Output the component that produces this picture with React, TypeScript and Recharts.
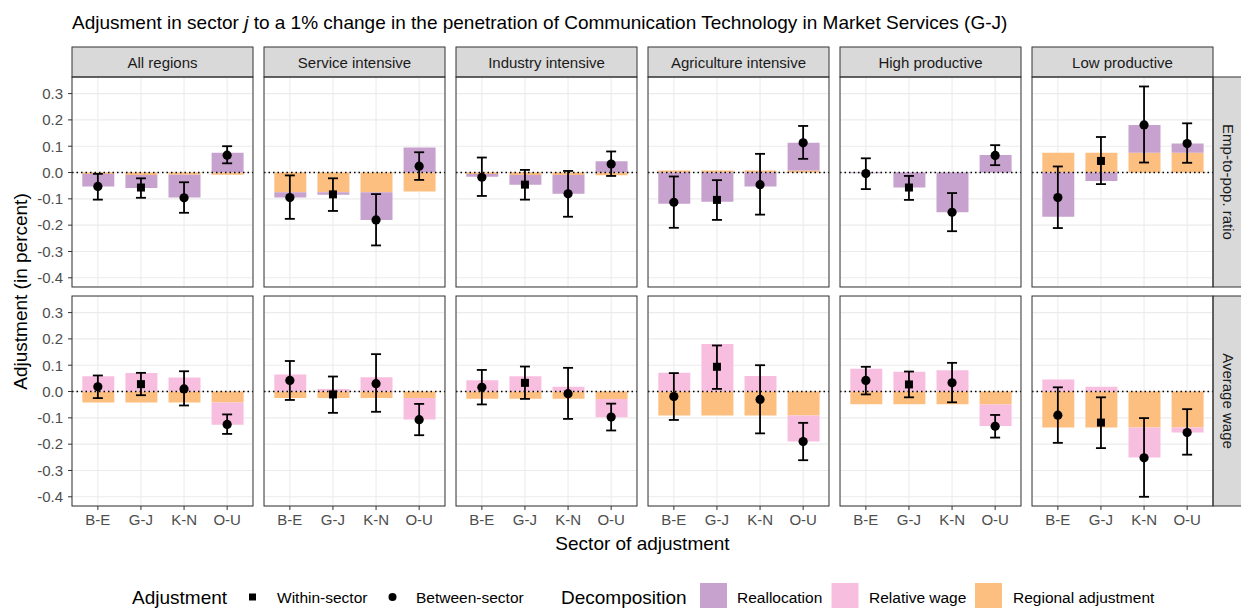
import React from 'react';
import { ComposedChart, Bar, Line, XAxis, YAxis, CartesianGrid, ReferenceLine, ErrorBar } from 'recharts';

// ---------- data ----------
const categories = ['B-E', 'G-J', 'K-N', 'O-U'];
const shockSector = 'G-J';
const regions = ['All regions', 'Service intensive', 'Industry intensive', 'Agriculture intensive', 'High productive', 'Low productive'];
const outcomes = ['Emp-to-pop. ratio', 'Average wage'];
const yTicks = [-0.4, -0.3, -0.2, -0.1, 0, 0.1, 0.2, 0.3];

// Employment-to-population ratio: [region][category]
const empRealloc = [
  [-0.047, -0.050, -0.087, 0.075],
  [-0.020, -0.009, -0.105, 0.095],
  [-0.010, -0.037, -0.072, 0.043],
  [-0.119, -0.111, -0.053, 0.105],
  [-0.003, -0.057, -0.151, 0.067],
  [-0.168, -0.032, 0.106, 0.035],
];
const empRelWage = [
  [0, 0, 0, 0],
  [0, 0, 0, 0],
  [0, 0, 0, 0],
  [0, 0, 0, 0],
  [0, 0, 0, 0],
  [0, 0, 0, 0],
];
const empRegional = [
  [-0.006, -0.009, -0.008, -0.008],
  [-0.075, -0.075, -0.075, -0.072],
  [-0.006, -0.009, -0.009, -0.010],
  [0.008, 0.008, 0.008, 0.008],
  [0, 0, 0, 0],
  [0.075, 0.075, 0.075, 0.075],
];
const empPoint = [
  [-0.053, -0.057, -0.096, 0.066],
  [-0.095, -0.083, -0.180, 0.024],
  [-0.018, -0.046, -0.081, 0.032],
  [-0.113, -0.104, -0.046, 0.113],
  [-0.004, -0.057, -0.151, 0.065],
  [-0.095, 0.044, 0.181, 0.110],
];
const empLow = [
  [-0.103, -0.096, -0.153, 0.035],
  [-0.176, -0.146, -0.277, -0.028],
  [-0.089, -0.103, -0.168, -0.013],
  [-0.210, -0.180, -0.160, 0.052],
  [-0.063, -0.104, -0.223, 0.028],
  [-0.211, -0.044, 0.038, 0.037],
];
const empHigh = [
  [-0.005, -0.022, -0.037, 0.100],
  [-0.011, -0.022, -0.082, 0.077],
  [0.057, 0.010, 0.006, 0.080],
  [-0.015, -0.029, 0.071, 0.177],
  [0.054, -0.013, -0.078, 0.104],
  [0.023, 0.135, 0.327, 0.187],
];

// Average wage: [region][category]
const wageRealloc = [
  [0, 0, 0, 0],
  [0, 0, 0, 0],
  [0, 0, 0, 0],
  [0, 0, 0, 0],
  [0, 0, 0, 0],
  [0, 0, 0, 0],
];
const wageRelWage = [
  [0.058, 0.070, 0.053, -0.084],
  [0.065, 0.010, 0.054, -0.081],
  [0.043, 0.058, 0.018, -0.070],
  [0.071, 0.181, 0.059, -0.099],
  [0.087, 0.075, 0.081, -0.082],
  [0.046, 0.018, -0.114, -0.019],
];
const wageRegional = [
  [-0.042, -0.042, -0.042, -0.042],
  [-0.025, -0.025, -0.025, -0.025],
  [-0.027, -0.027, -0.027, -0.028],
  [-0.091, -0.091, -0.091, -0.091],
  [-0.048, -0.048, -0.048, -0.049],
  [-0.137, -0.137, -0.137, -0.137],
];
const wagePoint = [
  [0.018, 0.028, 0.010, -0.125],
  [0.042, -0.011, 0.030, -0.107],
  [0.016, 0.033, -0.008, -0.097],
  [-0.019, 0.094, -0.030, -0.190],
  [0.042, 0.027, 0.033, -0.132],
  [-0.090, -0.118, -0.252, -0.156],
];
const wageLow = [
  [-0.025, -0.014, -0.053, -0.161],
  [-0.032, -0.081, -0.077, -0.166],
  [-0.049, -0.028, -0.104, -0.148],
  [-0.108, 0.010, -0.159, -0.261],
  [-0.011, -0.022, -0.041, -0.175],
  [-0.195, -0.215, -0.400, -0.240],
];
const wageHigh = [
  [0.061, 0.071, 0.077, -0.087],
  [0.116, 0.057, 0.142, -0.047],
  [0.082, 0.095, 0.090, -0.046],
  [0.070, 0.175, 0.100, -0.119],
  [0.094, 0.076, 0.109, -0.089],
  [0.016, -0.022, -0.101, -0.067],
];

// ---------- styling ----------
const FONT = '"Liberation Sans", Arial, Helvetica, sans-serif';
const C_REALLOC = '#C8A2CE';
const C_RELWAGE = '#F8BEDF';
const C_REGIONAL = '#FDBF80';
const GRID = '#EBEBEB';
const DARK = '#333333';
const TICKTXT = '#4D4D4D';

const PANEL_LEFT0 = 72;
const PANEL_STEP = 192;
const PW = 181;
const PH = 210;
const ROW_TOP = [77, 296];
const STRIP_TOP = 47;
const YMIN = -0.435;
const YMAX = 0.363;

const rowSets = [
  { realloc: empRealloc, relwage: empRelWage, regional: empRegional, point: empPoint, low: empLow, high: empHigh },
  { realloc: wageRealloc, relwage: wageRelWage, regional: wageRegional, point: wagePoint, low: wageLow, high: wageHigh },
];

const renderDot = (props: any) => {
  const { cx, cy, payload, index } = props;
  if (cx == null || cy == null) return <g key={`d${index}`} />;
  if (payload.within) {
    return <rect key={`d${index}`} x={cx - 4} y={cy - 4} width={8} height={8} fill="#000" />;
  }
  return <circle key={`d${index}`} cx={cx} cy={cy} r={4.6} fill="#000" />;
};

function Panel({ row, col }: { row: number; col: number }) {
  const s = rowSets[row];
  const data = categories.map((cat, i) => {
    const pt = s.point[col][i];
    return {
      cat,
      regional: s.regional[col][i],
      relwage: s.relwage[col][i],
      realloc: s.realloc[col][i],
      pt,
      err: [pt - s.low[col][i], s.high[col][i] - pt],
      within: cat === shockSector,
    };
  });
  const showY = col === 0;
  const showX = row === 1;
  const yW = showY ? 60 : 0;
  const xH = showX ? 32 : 0;
  const left = PANEL_LEFT0 + col * PANEL_STEP - yW;
  return (
    <div style={{ position: 'absolute', left, top: ROW_TOP[row] }}>
      <ComposedChart
        width={PW + yW}
        height={PH + xH}
        data={data}
        stackOffset="sign"
        margin={{ top: 0, right: 0, bottom: 0, left: 0 }}
      >
        <CartesianGrid stroke={GRID} strokeWidth={1.1} />
        <XAxis
          dataKey="cat"
          type="category"
          hide={!showX}
          height={xH}
          padding={{ left: 4.3, right: 4.3 }}
          axisLine={false}
          tickLine={{ stroke: DARK }}
          tickSize={4}
          tickMargin={4}
          interval={0}
          tick={{ fill: TICKTXT, fontSize: 15 }}
        />
        <YAxis
          type="number"
          domain={[YMIN, YMAX]}
          allowDataOverflow
          ticks={yTicks}
          hide={!showY}
          width={yW}
          axisLine={false}
          tickLine={{ stroke: DARK }}
          tickSize={4}
          tickMargin={5}
          tick={{ fill: TICKTXT, fontSize: 15 }}
          tickFormatter={(v: number) => v.toFixed(1)}
        />
        <Bar dataKey="regional" stackId="s" fill={C_REGIONAL} barSize={32} isAnimationActive={false} />
        <Bar dataKey="relwage" stackId="s" fill={C_RELWAGE} barSize={32} isAnimationActive={false} />
        <Bar dataKey="realloc" stackId="s" fill={C_REALLOC} barSize={32} isAnimationActive={false} />
        <ReferenceLine y={0} stroke="#000" strokeWidth={1.5} strokeDasharray="1.5 3" />
        <Line
          dataKey="pt"
          stroke="none"
          dot={renderDot}
          activeDot={false}
          isAnimationActive={false}
        >
          <ErrorBar dataKey="err" direction="y" width={5} stroke="#000" strokeWidth={1.8} />
        </Line>
      </ComposedChart>
    </div>
  );
}

export default function App() {
  const panels: React.ReactNode[] = [];
  for (let r = 0; r < 2; r++) {
    for (let c = 0; c < regions.length; c++) {
      panels.push(<Panel key={`${r}-${c}`} row={r} col={c} />);
    }
  }
  const lastRight = PANEL_LEFT0 + (regions.length - 1) * PANEL_STEP + PW;
  const centerX = (PANEL_LEFT0 + lastRight) / 2;
  return (
    <div
      style={{
        position: 'absolute',
        left: 0,
        top: 0,
        width: 1241,
        height: 608,
        background: '#fff',
        fontFamily: FONT,
        overflow: 'hidden',
      }}
    >
      {panels}
      <svg
        width={1241}
        height={608}
        style={{ position: 'absolute', left: 0, top: 0, pointerEvents: 'none', fontFamily: FONT }}
      >
        {/* title */}
        <text x={72} y={22} fontSize={19} fill="#000" dominantBaseline="central">
          Adjusment in sector <tspan fontStyle="italic">j</tspan> to a 1% change in the penetration of Communication Technology in Market Services (G-J)
        </text>

        {/* top strips */}
        {regions.map((name, c) => {
          const x = PANEL_LEFT0 + c * PANEL_STEP;
          return (
            <g key={`strip${c}`}>
              <rect x={x} y={STRIP_TOP} width={PW} height={ROW_TOP[0] - STRIP_TOP} fill="#D9D9D9" stroke={DARK} strokeWidth={1} />
              <text x={x + PW / 2} y={(STRIP_TOP + ROW_TOP[0]) / 2} fontSize={15} fill="#1A1A1A" textAnchor="middle" dominantBaseline="central">
                {name}
              </text>
            </g>
          );
        })}

        {/* right strips */}
        {outcomes.map((name, r) => {
          const y = ROW_TOP[r];
          const cx = lastRight + 15;
          const cy = y + PH / 2;
          return (
            <g key={`rstrip${r}`}>
              <rect x={lastRight} y={y} width={40} height={PH} fill="#D9D9D9" stroke={DARK} strokeWidth={1} />
              <text
                x={cx}
                y={cy}
                fontSize={15}
                fill="#1A1A1A"
                textAnchor="middle"
                dominantBaseline="central"
                transform={`rotate(90 ${cx} ${cy})`}
              >
                {name}
              </text>
            </g>
          );
        })}

        {/* panel borders */}
        {[0, 1].map((r) =>
          regions.map((_, c) => (
            <rect
              key={`b${r}-${c}`}
              x={PANEL_LEFT0 + c * PANEL_STEP}
              y={ROW_TOP[r]}
              width={PW}
              height={PH}
              fill="none"
              stroke={DARK}
              strokeWidth={1}
            />
          ))
        )}

        {/* axis titles */}
        <text x={centerX} y={543} fontSize={19} fill="#000" textAnchor="middle" dominantBaseline="central">
          Sector of adjustment
        </text>
        <text
          x={20}
          y={(ROW_TOP[0] + ROW_TOP[1] + PH) / 2}
          fontSize={19}
          fill="#000"
          textAnchor="middle"
          dominantBaseline="central"
          transform={`rotate(-90 20 ${(ROW_TOP[0] + ROW_TOP[1] + PH) / 2})`}
        >
          Adjustment (in percent)
        </text>

        {/* legend */}
        <g>
          <text x={132} y={597} fontSize={19} fill="#000" dominantBaseline="central">Adjustment</text>
          <rect x={249} y={593.5} width={7} height={7} fill="#000" />
          <text x={277} y={597} fontSize={15.5} fill="#000" dominantBaseline="central">Within-sector</text>
          <circle cx={392.5} cy={597} r={4} fill="#000" />
          <text x={416} y={597} fontSize={15.5} fill="#000" dominantBaseline="central">Between-sector</text>

          <text x={561} y={597} fontSize={19} fill="#000" dominantBaseline="central">Decomposition</text>
          <rect x={700} y={583} width={27} height={25} fill={C_REALLOC} />
          <text x={737} y={597} fontSize={15.5} fill="#000" dominantBaseline="central">Reallocation</text>
          <rect x={831.5} y={583} width={27} height={25} fill={C_RELWAGE} />
          <text x={869} y={597} fontSize={15.5} fill="#000" dominantBaseline="central">Relative wage</text>
          <rect x={975} y={583} width={27} height={25} fill={C_REGIONAL} />
          <text x={1013} y={597} fontSize={15.5} fill="#000" dominantBaseline="central">Regional adjustment</text>
        </g>
      </svg>
    </div>
  );
}
